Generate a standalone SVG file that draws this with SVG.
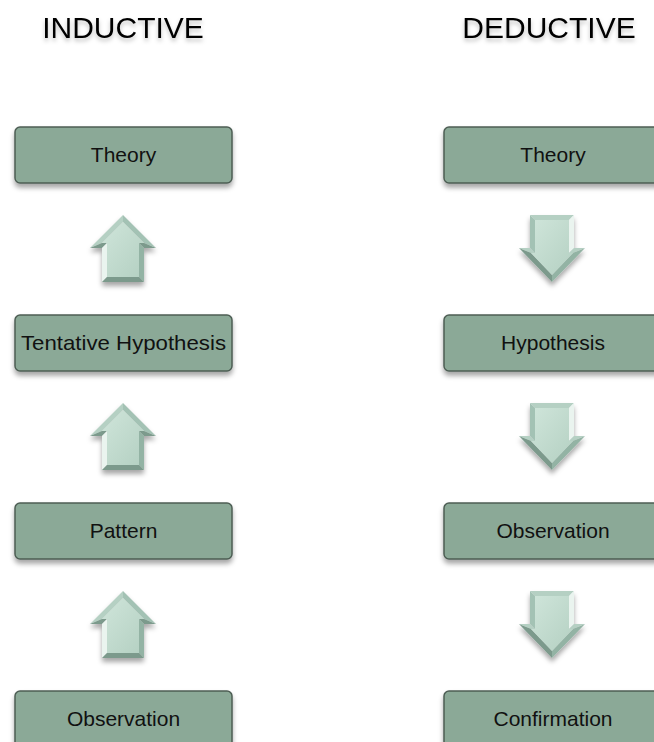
<svg xmlns="http://www.w3.org/2000/svg" width="654" height="742" viewBox="0 0 654 742">
<style>
.title{font-family:"Liberation Sans",Arial,sans-serif;font-size:30px;fill:#000;text-anchor:middle}
.box{fill:#8ba997;stroke:#4e5e54;stroke-width:1.5}
.lbl{font-family:"Liberation Sans",Arial,sans-serif;font-size:21px;fill:#111;text-anchor:middle}
.face{fill:url(#ag)}
.fl{fill:#eaf4ef}
.fr{fill:#93b3a4}
.fd{fill:#7c9a8c}
.fh1{fill:#b5d0c3}
.fh2{fill:#a3c2b4}
</style>
<defs>
<filter id="sh" x="-20%" y="-20%" width="140%" height="160%">
<feDropShadow dx="0" dy="4" stdDeviation="2.5" flood-color="#000" flood-opacity="0.35"/>
</filter>
<filter id="tsh" x="-10%" y="-20%" width="120%" height="160%">
<feDropShadow dx="0" dy="3" stdDeviation="2" flood-color="#000" flood-opacity="0.25"/>
</filter>
<linearGradient id="ag" x1="0" y1="0" x2="1" y2="1">
<stop offset="0" stop-color="#cfe5da"/>
<stop offset="1" stop-color="#b4d0c2"/>
</linearGradient>
<g id="up">
<polygon class="fh1" points="0,0 -33,33 -21,28 0,7"/>
<polygon class="fh2" points="0,0 33,33 21,28 0,7"/>
<polygon class="fd" points="-33,33 -21,33 -16,28 -21,28"/>
<polygon class="fd" points="33,33 21,33 16,28 21,28"/>
<polygon class="fl" points="-21,33 -21,67 -16,62 -16,28"/>
<polygon class="fr" points="21,33 21,67 16,62 16,28"/>
<polygon class="fd" points="-21,67 21,67 16,62 -16,62"/>
<polygon class="face" points="0,7 21,28 16,28 16,62 -16,62 -16,28 -21,28"/>
</g>
<g id="down">
<polygon class="fh1" points="-22,0 22,0 17,5 -17,5"/>
<polygon class="fh2" points="-22,0 -22,33 -17,38 -17,5"/>
<polygon class="fl" points="22,0 22,33 17,38 17,5"/>
<polygon class="fh1" points="-33,33 -22,33 -17,38 -21,38"/>
<polygon class="fh1" points="33,33 22,33 17,38 21,38"/>
<polygon class="fd" points="-33,33 0,67 0,60 -21,38"/>
<polygon class="fr" points="33,33 0,67 0,60 21,38"/>
<polygon class="face" points="-17,5 17,5 17,38 21,38 0,60 -21,38 -17,38"/>
</g>
</defs>
<g id="titles">
<text class="title" x="123" y="38" filter="url(#tsh)">INDUCTIVE</text>
<text class="title" x="549" y="38" filter="url(#tsh)">DEDUCTIVE</text>
</g>
<g id="connectors">
<use href="#up" x="123" y="215" filter="url(#sh)"/>
<use href="#up" x="123" y="403" filter="url(#sh)"/>
<use href="#up" x="123" y="591" filter="url(#sh)"/>
<use href="#down" x="552" y="215" filter="url(#sh)"/>
<use href="#down" x="552" y="403" filter="url(#sh)"/>
<use href="#down" x="552" y="591" filter="url(#sh)"/>
</g>
<g id="ind-theory"><rect class="box" x="15" y="127" width="217" height="56" rx="5" filter="url(#sh)"/><text class="lbl" x="123.5" y="162">Theory</text></g>
<g id="ind-tentative"><rect class="box" x="15" y="315" width="217" height="56" rx="5" filter="url(#sh)"/><text class="lbl" x="123.5" y="350" textLength="205" lengthAdjust="spacingAndGlyphs">Tentative Hypothesis</text></g>
<g id="ind-pattern"><rect class="box" x="15" y="503" width="217" height="56" rx="5" filter="url(#sh)"/><text class="lbl" x="123.5" y="538">Pattern</text></g>
<g id="ind-observation"><rect class="box" x="15" y="691" width="217" height="56" rx="5" filter="url(#sh)"/><text class="lbl" x="123.5" y="726">Observation</text></g>
<g id="ded-theory"><rect class="box" x="444" y="127" width="218" height="56" rx="5" filter="url(#sh)"/><text class="lbl" x="553" y="162">Theory</text></g>
<g id="ded-hypothesis"><rect class="box" x="444" y="315" width="218" height="56" rx="5" filter="url(#sh)"/><text class="lbl" x="553" y="350">Hypothesis</text></g>
<g id="ded-observation"><rect class="box" x="444" y="503" width="218" height="56" rx="5" filter="url(#sh)"/><text class="lbl" x="553" y="538">Observation</text></g>
<g id="ded-confirmation"><rect class="box" x="444" y="691" width="218" height="56" rx="5" filter="url(#sh)"/><text class="lbl" x="553" y="726">Confirmation</text></g>
</svg>
